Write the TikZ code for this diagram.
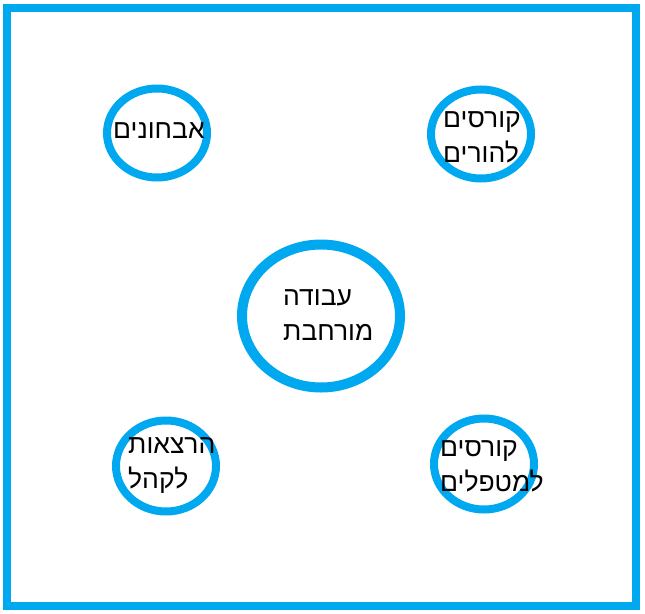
\documentclass[tikz,border=0pt]{standalone}
\usepackage{fontspec}
\newfontfamily\hebfont[Script=Hebrew]{Liberation Sans}
\TeXXeTstate=1
\usetikzlibrary{shapes.geometric}
\definecolor{skyblue}{RGB}{0,168,240}

\begin{document}
\begin{tikzpicture}[x = 1pt, y = -1pt,
    bubble/.style = {
      ellipse, draw = skyblue, line width = 8pt, inner sep = 0pt,
      minimum width = 100pt, minimum height = 89pt
    },
    tag/.style = {
      anchor = west, align = left, inner sep = 0pt,
      font = \hebfont\fontsize{26.5}{35}\selectfont
    }]
      \useasboundingbox (0,0) rectangle (645,613);
      \draw [skyblue, line width = 8pt] (7,8) rectangle (636,606);
      % circles
      \node [bubble, line width = 10pt, minimum width = 158pt,
        minimum height = 143pt] (work) at (321,316) {};
      \node [bubble] (diag) at (157,133) {};
      \node [bubble] (parents) at (481,134) {};
      \node [bubble, minimum height = 91pt] (lectures) at (166,466) {};
      \node [bubble, minimum height = 91pt] (therapists) at (484,464) {};
      % texts
      \node [tag] (worktext) at (283,315)
        {\beginR עבודה\endR\\\beginR מורחבת\endR};
      \node [tag] (diagtext) at (113,131) {\beginR אבחונים\endR};
      \node [tag] (parentstext) at (443,137)
        {\beginR קורסים\endR\\\beginR להורים\endR};
      \node [tag] (lecturestext) at (128,466)
        {\beginR הרצאות\endR\\\beginR לקהל\endR};
      \node [tag] (therapiststext) at (440,466)
        {\beginR קורסים\endR\\\beginR למטפלים\endR};
    \end{tikzpicture}
\end{document}
